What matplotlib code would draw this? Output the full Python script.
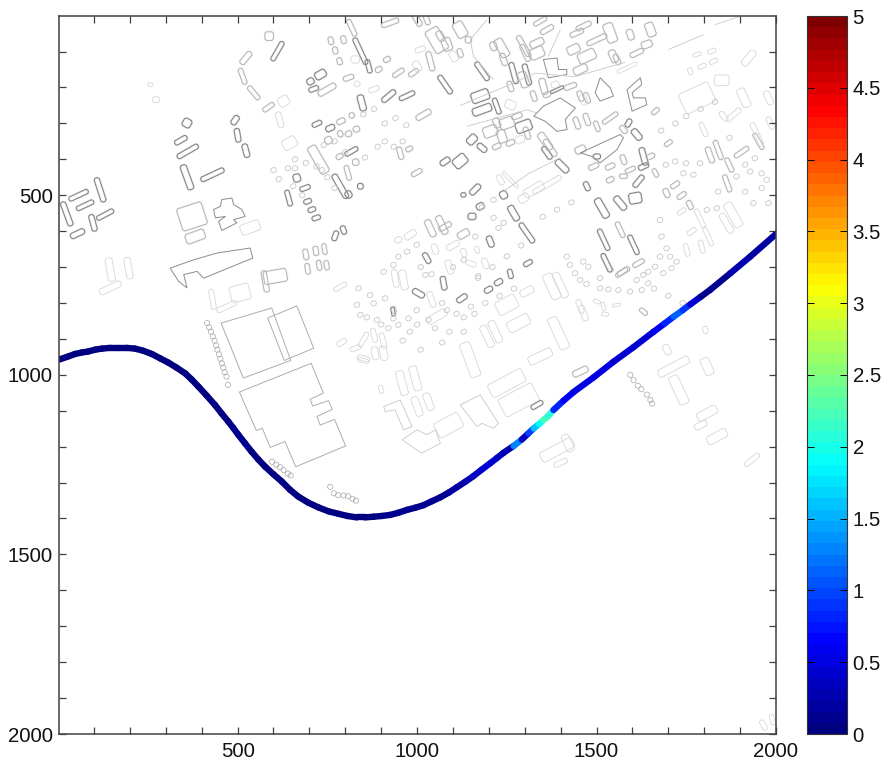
"""
Strassenverlauf auf Stadtplan, eingefaerbt nach Messwert
"""

import numpy as np
import matplotlib
matplotlib.use('Agg')
import matplotlib.pyplot as plt
from matplotlib.cm import ScalarMappable
from matplotlib.collections import LineCollection, PolyCollection
from matplotlib.colors import LinearSegmentedColormap, Normalize

plt.rcParams['font.family'] = ['Liberation Sans', 'DejaVu Sans']

# *************************************************************
# Daten
# *************************************************************

route_x = [1, 25, 47, 65, 84, 103, 122, 145, 168, 191, 214, 237, 261, 284, 307, 330, 354, 372, 391, 414,
           437, 455, 474, 488, 502, 520, 539, 558, 577, 600, 623, 646, 669, 697, 725, 753, 781, 806, 832,
           855, 879, 902, 925, 948, 972, 995, 1018, 1041, 1065, 1088, 1111, 1134, 1157, 1180, 1204, 1222,
           1241, 1269, 1292, 1310, 1325, 1340, 1352, 1365, 1380, 1408, 1436, 1492, 1548, 1603, 1659, 1690,
           1715, 1740, 1761, 1790, 1817, 1873, 1928, 2000]
route_y = [958, 950, 942, 938, 935, 930, 927, 925, 925, 925, 927, 933, 942, 954, 966, 980, 996, 1013, 1033,
           1058, 1084, 1107, 1130, 1148, 1167, 1190, 1214, 1236, 1256, 1277, 1297, 1320, 1339, 1356, 1369,
           1380, 1387, 1393, 1397, 1397, 1395, 1393, 1390, 1384, 1376, 1370, 1363, 1352, 1341, 1328, 1313,
           1298, 1282, 1264, 1246, 1232, 1217, 1198, 1180, 1163, 1149, 1137, 1126, 1115, 1098, 1072, 1048,
           1007, 963, 923, 880, 857, 838, 820, 804, 783, 763, 717, 671, 608]
route_val = [0.02, 0.02, 0.02, 0.02, 0.02, 0.02, 0.02, 0.02, 0.02, 0.02, 0.02, 0.03, 0.03, 0.03, 0.03, 0.03,
             0.04, 0.04, 0.04, 0.04, 0.05, 0.05, 0.05, 0.08, 0.1, 0.1, 0.05, 0.05, 0.05, 0.05, 0.05, 0.05,
             0.05, 0.05, 0.05, 0.05, 0.05, 0.05, 0.05, 0.05, 0.05, 0.08, 0.1, 0.1, 0.1, 0.12, 0.15, 0.15,
             0.15, 0.18, 0.2, 0.3, 0.35, 0.4, 0.45, 0.35, 0.3, 1.3, 0.35, 1.0, 1.6, 1.9, 2.2, 2.1, 0.8,
             0.6, 0.5, 0.5, 0.45, 0.45, 0.55, 0.8, 1.15, 0.9, 0.4, 0.1, 0.15, 0.25, 0.2, 0.15]

# x, y, Laenge, Breite, Winkel
dark_blocks = [
    (117, 485, 70, 15, 72), (57, 500, 58, 13, -25), (75, 528, 52, 13, -25), (24, 552, 70, 15, 70),
    (97, 577, 47, 15, 75), (131, 554, 52, 13, -28), (54, 607, 42, 16, -25), (359, 299, 24, 24, 30),
    (342, 347, 38, 14, -30), (361, 378, 66, 14, -30), (359, 450, 72, 18, 70), (430, 443, 70, 14, -25),
    (493, 291, 28, 16, -55), (500, 333, 38, 15, 80), (523, 376, 38, 16, 75), (611, 99, 60, 13, -60),
    (731, 164, 32, 22, -30), (703, 183, 20, 18, -30), (712, 204, 28, 13, -20), (846, 243, 45, 18, 75),
    (921, 224, 46, 15, -40), (972, 223, 46, 13, -25), (842, 99, 80, 13, 65), (865, 141, 38, 13, 75),
    (721, 301, 28, 13, -25), (758, 313, 26, 16, -25), (817, 378, 40, 13, -30), (786, 475, 75, 16, 60),
    (809, 498, 20, 18, 60), (842, 475, 16, 16, 0), (665, 452, 20, 22, -15), (688, 480, 30, 13, -20),
    (642, 508, 45, 13, 75), (695, 517, 22, 13, -20), (707, 540, 22, 13, -20), (719, 563, 24, 13, -20),
    (772, 613, 28, 14, -70), (795, 597, 24, 14, 70), (1078, 192, 60, 14, 55), (1404, 419, 45, 18, 45),
    (1515, 536, 60, 20, 60), (1566, 522, 45, 18, 50), (1608, 508, 35, 30, -10), (1473, 475, 26, 14, 65),
    (1162, 484, 36, 16, -45), (1120, 405, 40, 30, -40), (1269, 550, 46, 18, 60), (1306, 605, 65, 14, 55),
    (1176, 531, 22, 18, -30), (1153, 559, 22, 18, 0), (1520, 624, 64, 13, 65), (1603, 638, 58, 13, 65),
    (1309, 689, 26, 13, -30), (1260, 719, 26, 13, 75), (1227, 742, 24, 15, -30), (1199, 763, 24, 15, -30),
    (1074, 745, 38, 15, 80), (1125, 787, 32, 15, -35), (933, 824, 24, 10, 80), (1027, 675, 32, 14, 60),
    (1004, 773, 36, 16, 30), (1078, 406, 30, 16, -35), (1241, 499, 22, 20, 60), (1129, 499, 14, 12, 0),
    (1204, 629, 32, 16, 70), (1176, 224, 50, 30, -20), (1181, 262, 55, 22, -20), (1222, 252, 46, 13, 70),
    (1297, 308, 45, 30, -20), (1153, 345, 30, 22, -45), (1181, 368, 30, 16, 40), (1631, 392, 50, 16, 75),
    (1612, 331, 35, 18, 50), (1589, 299, 24, 14, -60), (1334, 1084, 36, 13, -30), (1528, 688, 55, 13, 65),
    (1617, 461, 40, 14, -50), (1631, 420, 30, 14, -25), (1269, 160, 60, 14, 75), (1306, 164, 60, 14, 75),
    (1181, 155, 60, 14, 55), (1390, 206, 40, 8, -25), (1362, 382, 40, 14, 55), (1501, 392, 20, 14, 0),
]
mid_blocks = [
    (523, 118, 42, 16, -50), (514, 169, 46, 13, 70), (545, 215, 46, 13, 50), (586, 255, 36, 13, -35),
    (588, 57, 24, 24, 0), (760, 70, 22, 14, 75), (795, 67, 22, 14, 75), (772, 97, 20, 14, 75),
    (784, 127, 20, 14, 75), (818, 34, 50, 13, 65), (749, 206, 55, 17, -30), (788, 294, 24, 15, -25),
    (818, 278, 15, 15, -25), (753, 347, 20, 20, -25), (786, 329, 14, 18, -20), (809, 329, 18, 16, -20),
    (831, 316, 18, 16, -20), (784, 392, 20, 14, -30), (807, 438, 42, 13, 75), (829, 408, 18, 18, 0),
    (725, 401, 85, 26, 60), (373, 559, 72, 65, -18), (382, 615, 55, 28, -20), (605, 726, 65, 36, -10),
    (577, 740, 60, 15, 80), (690, 665, 30, 14, 80), (718, 655, 26, 14, 80), (742, 650, 30, 12, 80),
    (695, 705, 30, 13, 80), (727, 695, 28, 13, 80), (748, 695, 26, 13, 80), (1018, 276, 46, 16, -30),
    (1037, 592, 50, 18, 65), (1069, 583, 55, 18, 65), (1078, 587, 38, 14, -30), (1566, 596, 46, 13, 65),
    (1037, 127, 55, 15, 75), (1120, 39, 45, 30, 60), (1083, 80, 36, 26, 70), (1236, 90, 55, 25, 60),
    (1297, 85, 65, 14, 60), (1334, 76, 40, 20, -25), (1455, 150, 40, 22, -25), (1473, 113, 50, 30, -25),
    (1436, 94, 36, 24, -25), (1538, 48, 55, 28, 70), (1547, 113, 36, 20, 65), (1594, 53, 30, 18, 70),
    (1640, 80, 30, 20, -20), (1650, 39, 40, 24, 70), (1297, 178, 45, 24, 70), (1352, 197, 45, 18, 75),
    (1204, 322, 40, 30, -20), (1250, 299, 40, 30, -20), (1236, 336, 36, 24, 70), (1357, 350, 55, 20, 55),
    (1371, 368, 55, 14, 55), (1538, 285, 50, 12, -35), (1664, 266, 24, 12, -40), (1455, 991, 45, 18, -25),
    (1529, 689, 56, 13, 60), (1575, 712, 38, 13, -30), (1617, 689, 35, 13, -30), (999, 437, 32, 13, -30),
    (953, 383, 35, 14, 75), (978, 371, 20, 13, -25), (1129, 608, 34, 20, -30), (1631, 824, 25, 12, 40),
    (1816, 388, 46, 15, 70), (1839, 374, 56, 13, 70), (1870, 416, 42, 13, 65), (1904, 380, 46, 13, -35),
    (1951, 350, 50, 12, 60), (1864, 467, 50, 13, 70), (1719, 471, 28, 13, -35), (1737, 501, 28, 13, -35),
    (1695, 494, 26, 15, 65), (1760, 527, 26, 14, 65), (1700, 355, 24, 12, -35), (1570, 715, 38, 12, -35),
    (1000, 11, 40, 16, 60), (1027, 11, 30, 14, 70), (1065, 57, 30, 18, 60), (1143, 67, 18, 18, 0),
    (1120, 104, 25, 14, 70), (1213, 85, 25, 18, 70), (1241, 122, 35, 16, 70), (1301, 104, 50, 14, 65),
    (1334, 104, 40, 30, -25), (1362, 39, 40, 14, -30), (1343, 16, 40, 12, -30), (1445, 48, 40, 14, -25),
    (1464, 29, 45, 14, -25), (1501, 67, 60, 14, -25), (1557, 122, 30, 14, 65), (1612, 104, 40, 14, -25),
    (1260, 197, 30, 14, 70), (1325, 224, 30, 14, 70), (1362, 220, 22, 14, -25), (1427, 197, 36, 14, -20),
    (1455, 224, 30, 14, 70), (1473, 229, 30, 14, 70), (1222, 299, 28, 18, 70), (1278, 280, 30, 14, -20),
    (1306, 327, 35, 14, 70), (1260, 354, 25, 14, -25), (1222, 364, 25, 14, -25), (1445, 299, 35, 14, 70),
    (1473, 289, 35, 14, 70), (1501, 308, 30, 12, 70), (1575, 317, 25, 14, 50), (1455, 373, 30, 20, -25),
    (1492, 420, 30, 14, -25), (1538, 420, 28, 14, -25), (1575, 401, 28, 14, 70), (1594, 429, 30, 12, -25),
    (1538, 457, 22, 14, -25), (1575, 447, 22, 12, 0), (1650, 392, 25, 14, -25), (1664, 438, 25, 12, 60),
    (1055, 68, 70, 40, 60), (925, 20, 50, 14, -20), (916, 122, 20, 14, -30), (893, 150, 20, 14, -30),
    (948, 159, 36, 13, -35), (990, 159, 30, 13, -35), (809, 173, 30, 14, -20), (935, 819, 20, 12, 80),
]
faint_blocks = [
    (145, 707, 65, 20, 80), (196, 703, 60, 18, 80), (145, 758, 65, 18, -25), (257, 192, 14, 10, 0),
    (273, 234, 20, 16, 0), (535, 590, 55, 30, -20), (507, 772, 55, 45, -15), (430, 790, 55, 14, 80),
    (470, 810, 60, 14, -25), (628, 238, 30, 28, -30), (617, 290, 45, 16, 75), (645, 355, 40, 30, -30),
    (880, 205, 30, 14, -20), (833, 190, 16, 16, 0), (1000, 141, 30, 20, 60), (1009, 94, 30, 14, -20),
    (1102, 113, 30, 20, 60), (1385, 192, 22, 18, -20), (1464, 234, 30, 18, 70), (1260, 248, 30, 24, 20),
    (1287, 345, 26, 20, -25), (1780, 108, 24, 10, -20), (1821, 99, 24, 12, -25), (1826, 127, 24, 12, -25),
    (1794, 141, 24, 12, -25), (1761, 155, 20, 12, 70), (1849, 180, 40, 30, 0), (1924, 118, 50, 20, -50),
    (1882, 276, 50, 14, -40), (1854, 280, 30, 14, 50), (1910, 229, 55, 24, 65), (1798, 317, 42, 13, 65),
    (1947, 331, 70, 14, 65), (1780, 229, 90, 60, -25), (1979, 229, 40, 18, 65), (1984, 299, 36, 14, 65),
    (958, 1023, 70, 22, 75), (995, 1010, 70, 22, 75), (1000, 1088, 56, 20, 70), (1032, 1075, 50, 20, 70),
    (1088, 1140, 75, 45, -28), (1250, 1023, 105, 40, -28), (1283, 1070, 105, 55, -28), (1148, 958, 100, 30, 70),
    (1195, 893, 65, 20, 65), (1218, 880, 65, 20, 65), (1250, 805, 60, 40, -28), (1283, 856, 65, 32, -28),
    (1394, 884, 95, 28, 65), (1306, 768, 40, 20, -28), (1376, 754, 75, 28, 65), (1399, 750, 75, 20, 65),
    (1343, 949, 70, 25, -25), (1390, 1209, 100, 30, -28), (1420, 1190, 50, 22, 65), (1400, 1245, 40, 14, -25),
    (1715, 977, 95, 22, -28), (1729, 1042, 85, 28, 65), (1808, 977, 50, 25, 65), (1808, 1107, 60, 25, -28),
    (1790, 1140, 36, 18, -28), (1836, 1172, 60, 25, -28), (1933, 1237, 50, 14, -40), (1803, 875, 20, 14, 70),
    (1696, 930, 30, 18, 65), (1464, 828, 45, 16, 70), (1454, 810, 40, 14, 70), (1501, 796, 20, 10, 20),
    (1519, 810, 24, 10, 75), (1556, 806, 22, 8, -10), (1524, 831, 20, 10, 10), (1811, 615, 55, 12, 65),
    (1788, 564, 55, 12, 65), (1881, 555, 75, 25, 60), (1862, 578, 60, 18, 60), (1737, 545, 26, 12, -35),
    (1765, 601, 28, 13, -35), (1751, 652, 36, 13, 75), (1793, 643, 36, 13, 75), (981, 610, 36, 18, -35),
    (948, 624, 20, 16, -25), (962, 736, 55, 20, 80), (939, 731, 50, 16, 80), (786, 755, 40, 12, -30),
    (1055, 838, 60, 22, -30), (900, 1040, 22, 12, 75), (790, 910, 30, 14, -30), (880, 890, 40, 14, 75),
    (905, 905, 44, 14, 75), (850, 960, 30, 12, 15), (1965, 1975, 30, 14, 60), (1990, 1960, 30, 12, 75),
    (1362, 471, 90, 14, -30), (1325, 484, 60, 25, -30), (1297, 508, 30, 22, -30), (1260, 457, 60, 8, 45),
    (1232, 457, 30, 14, 60), (1585, 145, 60, 10, -25), (851, 902, 45, 13, -60), (828, 926, 30, 13, -20),
    (851, 954, 36, 14, 15), (883, 940, 36, 18, 80), (907, 940, 40, 20, 80), (828, 122, 24, 20, 0),
    (1167, 652, 20, 12, 70), (1100, 640, 40, 16, -30), (1050, 650, 30, 16, 70), (1130, 660, 24, 14, 70),
    (1190, 690, 30, 16, 70), (1040, 790, 45, 16, 70), (1150, 690, 30, 14, 20), (1090, 700, 40, 18, 70),
]

# kleine Haeuser, alle fast gleich gross
small_x = [1693, 1719, 1749, 1742, 1770, 1788, 1839, 1914, 1941, 1928, 1960, 1974, 1914, 1960, 1937, 1979,
           1890, 1807, 1835, 1677, 1681, 1695, 1705, 1677, 1663, 1644, 1630, 1644, 1686, 1709, 1723, 1612,
           1593, 1626, 1417, 1426, 1440, 1454, 1472, 1463, 1477, 1510, 1510, 1533, 1561, 999, 972, 948,
           1023, 907, 934, 869, 879, 911, 837, 832, 842, 888, 934, 976, 999, 1083, 1032, 948, 1181, 1213,
           1162, 660, 600, 615, 640, 660, 655, 680, 735, 750, 770, 855, 890, 910, 935, 960, 1100, 1130, 1170,
           1241, 1213, 1227, 1010, 1040, 1070, 1110, 1150, 980, 960, 920, 900, 860, 1000, 1050, 1090, 1130,
           1170, 1210, 1250, 1290, 1160, 1190, 1230, 1270, 1130, 1070, 1010, 1350, 1390, 1430, 1680, 1720,
           1750, 1790, 1830, 1870, 1660, 1700, 1740, 740, 770, 800, 690, 720, 850, 880, 910, 940, 970]
small_y = [415, 406, 411, 439, 443, 411, 490, 415, 397, 434, 439, 457, 490, 480, 522, 522,
           448, 541, 536, 569, 615, 648, 671, 671, 699, 713, 722, 745, 717, 703, 685, 736,
           768, 764, 671, 694, 717, 736, 747, 685, 699, 731, 759, 762, 764, 638, 657, 671,
           722, 713, 694, 778, 801, 787, 759, 805, 833, 847, 843, 843, 820, 820, 847, 861, 533, 513,
           615, 425, 430, 455, 425, 400, 475, 500, 430, 450, 480, 395, 365, 350, 365, 350, 700, 680, 725,
           577, 563, 591, 700, 720, 800, 830, 810, 880, 905, 870, 860, 840, 860, 870, 880, 840,
           730, 700, 670, 640, 830, 800, 780, 760, 880, 910, 930, 560, 540, 520, 320, 300,
           280, 260, 240, 340, 760, 780, 800, 360, 350, 380, 410, 420, 275, 260, 300, 285, 305]

# unregelmaessige Gebaeude (x, y)
outline_big = [
    [(454, 856), (595, 814), (648, 960), (516, 1009)],
    [(584, 842), (665, 808), (712, 926), (630, 960)],
    [(505, 1048), (705, 968), (739, 1051), (702, 1068), (709, 1087), (753, 1072), (764, 1096), (721, 1116),
     (730, 1140), (770, 1124), (801, 1198), (662, 1256), (632, 1186), (591, 1202), (569, 1149), (552, 1155)],
]
outline_mid = [
    [(433, 540), (452, 531), (456, 512), (484, 508), (489, 526), (512, 540), (521, 559), (489, 568), (498, 577),
     (456, 598), (447, 573), (466, 559), (438, 563)],
    [(312, 703), (377, 680), (442, 661), (535, 647), (542, 675), (405, 731), (387, 712), (350, 721), (359, 758),
     (336, 740)],
    [(1325, 280), (1352, 252), (1399, 229), (1441, 257), (1413, 289), (1418, 317), (1390, 322), (1357, 294)],
    [(1496, 215), (1510, 173), (1538, 201), (1547, 224), (1510, 238)],
    [(1585, 206), (1622, 173), (1626, 192), (1599, 215), (1603, 229), (1636, 229), (1640, 248), (1599, 266)],
    [(1455, 382), (1566, 331), (1575, 340), (1557, 373), (1510, 410), (1487, 392)],
    [(1352, 122), (1390, 118), (1394, 150), (1417, 150), (1417, 164), (1366, 173)],
]
outline_faint = [
    [(907, 1088), (953, 1070), (986, 1144), (962, 1153), (939, 1098), (911, 1102)],
    [(1120, 1084), (1176, 1056), (1227, 1135), (1213, 1149), (1181, 1135), (1167, 1144)],
    [(958, 1181), (1000, 1153), (1027, 1167), (1051, 1153), (1065, 1191), (1013, 1218)],
]
street_lines = [
    [(1139, 308), (1306, 262), (1334, 271)],
    [(1195, 11), (1148, 67), (1157, 113), (1213, 178)],
    [(1399, 39), (1366, 113)],
    [(1701, 94), (1798, 53)],
    [(1830, 25), (1900, 2)],
    [(1240, 490), (1310, 440), (1400, 395)],
    [(1120, 250), (1240, 200), (1330, 160), (1440, 170), (1580, 130)],
]

# Reihenhaeuser als kleine Ringe
ring_x = [415, 421, 426, 431, 436, 440, 444, 448, 452, 456, 460, 464, 469, 473,
          596, 608, 618, 628, 640, 648, 758, 768, 780, 795, 808, 820, 830,
          1594, 1603, 1615, 1625, 1640, 1650, 1655]
ring_y = [856, 868, 880, 893, 905, 918, 930, 943, 955, 968, 980, 993, 1005, 1028,
          1242, 1250, 1257, 1265, 1275, 1280, 1312, 1330, 1335, 1336, 1338, 1345, 1350,
          1000, 1015, 1030, 1040, 1055, 1070, 1080]

x_ticks = list(range(100, 2001, 100))
x_labels = ['500', '1000', '1500', '2000']
bar_ticks = [0, 0.5, 1, 1.5, 2, 2.5, 3, 3.5, 4, 4.5, 5]
bar_labels = ['0', '0.5', '1', '1.5', '2', '2.5', '3', '3.5', '4', '4.5', '5']
jet_pos = [0, 0.125, 0.375, 0.625, 0.875, 1]
jet_rgb = [(0, 0, 0.5), (0, 0, 1), (0, 1, 1), (1, 1, 0), (1, 0, 0), (0.5, 0, 0)]


def block_corners(cx, cy, length, width, angle):
    # Rechteck mit abgeschraegten Ecken, damit es wie im Plan rund wirkt
    c = min(min(length, width) * 0.28, 4.5)
    a, b = length / 2, width / 2
    pts = np.array([(-a + c, -b), (a - c, -b), (a, -b + c), (a, b - c),
                    (a - c, b), (-a + c, b), (-a, b - c), (-a, -b + c)])
    t = np.deg2rad(angle)
    rot = np.array([[np.cos(t), -np.sin(t)], [np.sin(t), np.cos(t)]])
    return pts @ rot.T + (cx, cy)


fig = plt.figure(figsize=(8.84, 7.6), dpi=100)
ax = fig.add_axes([58.5 / 884, 26 / 760, 717.5 / 884, 718 / 760])
cax = fig.add_axes([806.5 / 884, 26 / 760, 40.5 / 884, 718 / 760])

# Matlab-jet mit 64 Stufen
cmap = LinearSegmentedColormap.from_list('mjet', list(zip(jet_pos, jet_rgb)), N=64)
norm = Normalize(0, 5)

# Karte
for blocks, tone, lw, halo in [(faint_blocks, '0.84', 0.6, None), (mid_blocks, '0.68', 0.6, '0.95'),
                               (dark_blocks, '0.5', 0.7, '0.91')]:
    polys = [block_corners(*b) for b in blocks]
    if halo is not None:
        ax.add_collection(PolyCollection(polys, facecolors='none', edgecolors=halo, linewidths=1.6))
    ax.add_collection(PolyCollection(polys, facecolors='none', edgecolors=tone, linewidths=lw))

small_polys = [block_corners(x, y, 15, 13, -25) for x, y in zip(small_x, small_y)]
ax.add_collection(PolyCollection(small_polys, facecolors='none', edgecolors='0.78', linewidths=0.6))
ax.add_collection(PolyCollection(outline_big, facecolors='none', edgecolors='0.68', linewidths=0.7))
ax.add_collection(PolyCollection(outline_mid, facecolors='none', edgecolors='0.55', linewidths=0.7))
ax.add_collection(PolyCollection(outline_faint, facecolors='none', edgecolors='0.78', linewidths=0.6))
ax.add_collection(LineCollection(street_lines, colors='0.78', linewidths=0.6))
ax.scatter(ring_x, ring_y, s=14, facecolors='none', edgecolors='0.65', linewidths=0.5)

# Route
pts = np.column_stack([route_x, route_y])
segments = np.stack([pts[:-1], pts[1:]], axis=1)
route = LineCollection(segments, cmap=cmap, norm=norm, linewidths=4.6, capstyle='round')
route.set_array(np.array(route_val[:-1]))
ax.add_collection(route)

ax.set_xlim(1, 2000)
ax.set_ylim(2000, 1)
ax.set_xticks(x_ticks)
ax.set_yticks(x_ticks)
ax.set_xticklabels([x_labels[i // 500 - 1] if i % 500 == 0 else '' for i in x_ticks])
ax.set_yticklabels([x_labels[i // 500 - 1] if i % 500 == 0 else '' for i in x_ticks])
ax.tick_params(direction='in', length=5, width=0.9, color='#404040', top=True, right=True,
               labelsize=14.7, labelcolor='#111111')
ax.tick_params(axis='x', pad=6)
ax.tick_params(axis='y', pad=4)
for s in ax.spines.values():
    s.set_color('#404040')
    s.set_linewidth(1.1)

# Farbskala
cb = fig.colorbar(ScalarMappable(norm=norm, cmap=cmap), cax=cax, ticks=bar_ticks)
cb.ax.set_yticklabels(bar_labels)
cb.ax.tick_params(direction='in', length=5, width=0.7, left=True, right=True, labelsize=14.7,
                  labelcolor='#111111', pad=4)
cb.outline.set_linewidth(0.8)
cb.outline.set_edgecolor('#333333')

fig.savefig('out.png', dpi=100)
